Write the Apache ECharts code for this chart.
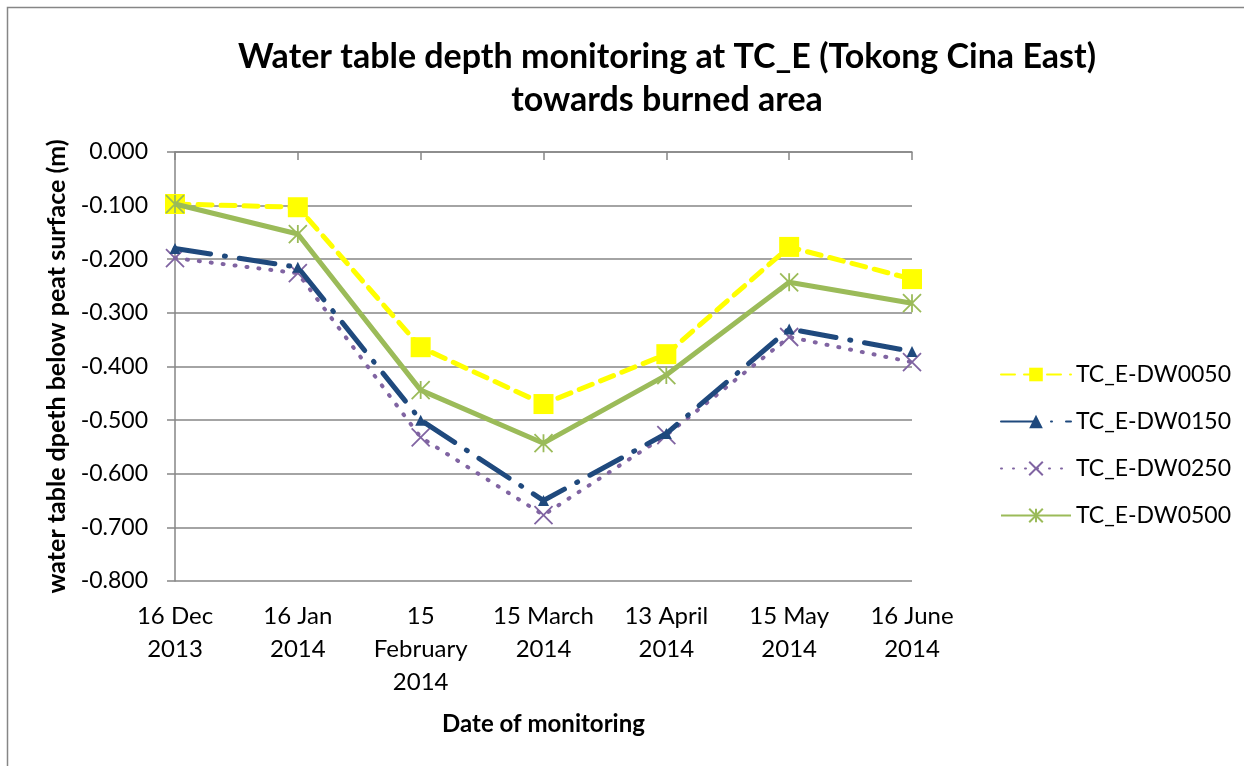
<!DOCTYPE html>
<html>
<head>
<meta charset="UTF-8">
<title>Water table depth TC_E</title>
<script src="https://cdn.jsdelivr.net/npm/echarts@6/dist/echarts.min.js"></script>
<style>
  html, body { margin: 0; padding: 0; background: #fff; }
  #main { width: 1244px; height: 766px; }
</style>
</head>
<body>
<div id="main"></div>
<script>
// categories (dates of monitoring)
var dates = ['16 Dec\n2013', '16 Jan\n2014', '15\nFebruary\n2014', '15 March\n2014',
             '13 April\n2014', '15 May\n2014', '16 June\n2014'];
// water table depth (m)
var dw0050 = [-0.097, -0.103, -0.364, -0.470, -0.377, -0.177, -0.237];
var dw0150 = [-0.180, -0.215, -0.500, -0.650, -0.525, -0.330, -0.372];
var dw0250 = [-0.198, -0.226, -0.532, -0.677, -0.528, -0.345, -0.392];
var dw0500 = [-0.097, -0.153, -0.444, -0.543, -0.416, -0.243, -0.282];
var seriesNames = ['TC_E-DW0050', 'TC_E-DW0150', 'TC_E-DW0250', 'TC_E-DW0500'];

var FONT = 'Lato';
var crossPath = 'path://M0,0L10,10M10,0L0,10';
var starPath = 'path://M0,0L10,10M10,0L0,10M5,0L5,10';

var myChart = echarts.init(document.getElementById('main'));
var option = {
  backgroundColor: '#fff',
  animation: false,
  textStyle: { fontFamily: FONT },
  graphic: [{
    type: 'rect',
    shape: { x: 7.5, y: 7.5, width: 1300, height: 800 },
    style: { fill: 'none', stroke: '#868686', lineWidth: 1.5 },
    silent: true
  }],
  title: {
    text: 'Water table depth monitoring at TC_E (Tokong Cina East)\ntowards burned area',
    left: 662,
    top: 31,
    textAlign: 'center',
    textStyle: { fontFamily: FONT, fontWeight: 'bold', fontSize: 34, lineHeight: 43, color: '#000' }
  },
  legend: {
    orient: 'vertical',
    left: 995,
    top: 358,
    itemWidth: 70,
    itemHeight: 17,
    itemGap: 24,
    textStyle: { fontFamily: FONT, fontSize: 23, color: '#000' },
    data: seriesNames
  },
  grid: { left: 175, right: 332, top: 152, bottom: 185 },
  xAxis: [{
    type: 'category',
    data: dates,
    boundaryGap: false,
    position: 'top',
    axisLine: { show: true, lineStyle: { color: '#868686', width: 1.5 } },
    axisTick: { show: true, inside: true, length: 8, lineStyle: { color: '#868686', width: 1.5 } },
    axisLabel: { show: false }
  }, {
    type: 'category',
    data: dates,
    boundaryGap: false,
    position: 'bottom',
    axisLine: { show: false },
    axisTick: { show: false },
    axisLabel: { fontFamily: FONT, fontSize: 24, color: '#000', lineHeight: 33, margin: 19, interval: 0 },
    name: 'Date of monitoring',
    nameLocation: 'middle',
    nameGap: 131,
    nameTextStyle: { fontFamily: FONT, fontWeight: 'bold', fontSize: 24, color: '#000' }
  }],
  yAxis: {
    type: 'value',
    min: -0.8,
    max: 0,
    interval: 0.1,
    axisLine: { show: true, lineStyle: { color: '#868686', width: 1.5 } },
    axisTick: { show: true, length: 8, lineStyle: { color: '#868686', width: 1.5 } },
    splitLine: { show: true, lineStyle: { color: '#868686', width: 1.5 } },
    axisLabel: {
      fontFamily: FONT, fontSize: 23, color: '#000', margin: 27,
      formatter: function (v) { return v.toFixed(3); }
    },
    name: 'water table dpeth below peat surface (m)',
    nameLocation: 'middle',
    nameGap: 103,
    nameTextStyle: { fontFamily: FONT, fontWeight: 'bold', fontSize: 25, color: '#000' }
  },
  series: [{
    name: seriesNames[0],
    type: 'line',
    xAxisIndex: 0,
    data: dw0050,
    symbol: 'rect',
    symbolSize: 20,
    z: 4,
    itemStyle: { color: '#ffff00' },
    lineStyle: { color: '#ffff00', width: 5, type: [14, 9], cap: 'round' }
  }, {
    name: seriesNames[1],
    type: 'line',
    xAxisIndex: 0,
    data: dw0150,
    symbol: 'triangle',
    symbolSize: 11,
    z: 3,
    itemStyle: { color: '#1f497d' },
    lineStyle: { color: '#1f497d', width: 5, type: [36, 14, 1, 14], cap: 'round' }
  }, {
    name: seriesNames[2],
    type: 'line',
    xAxisIndex: 0,
    data: dw0250,
    symbol: crossPath,
    symbolSize: 18,
    z: 2,
    itemStyle: { color: '#8064a2', borderColor: '#8064a2', borderWidth: 1.8 },
    lineStyle: { color: '#8064a2', width: 4, type: [1, 11], cap: 'round' }
  }, {
    name: seriesNames[3],
    type: 'line',
    xAxisIndex: 0,
    data: dw0500,
    symbol: starPath,
    symbolSize: 18,
    z: 5,
    itemStyle: { color: '#9bbb59', borderColor: '#9bbb59', borderWidth: 1.8 },
    lineStyle: { color: '#9bbb59', width: 5 }
  }]
};
myChart.setOption(option);
</script>
</body>
</html>
